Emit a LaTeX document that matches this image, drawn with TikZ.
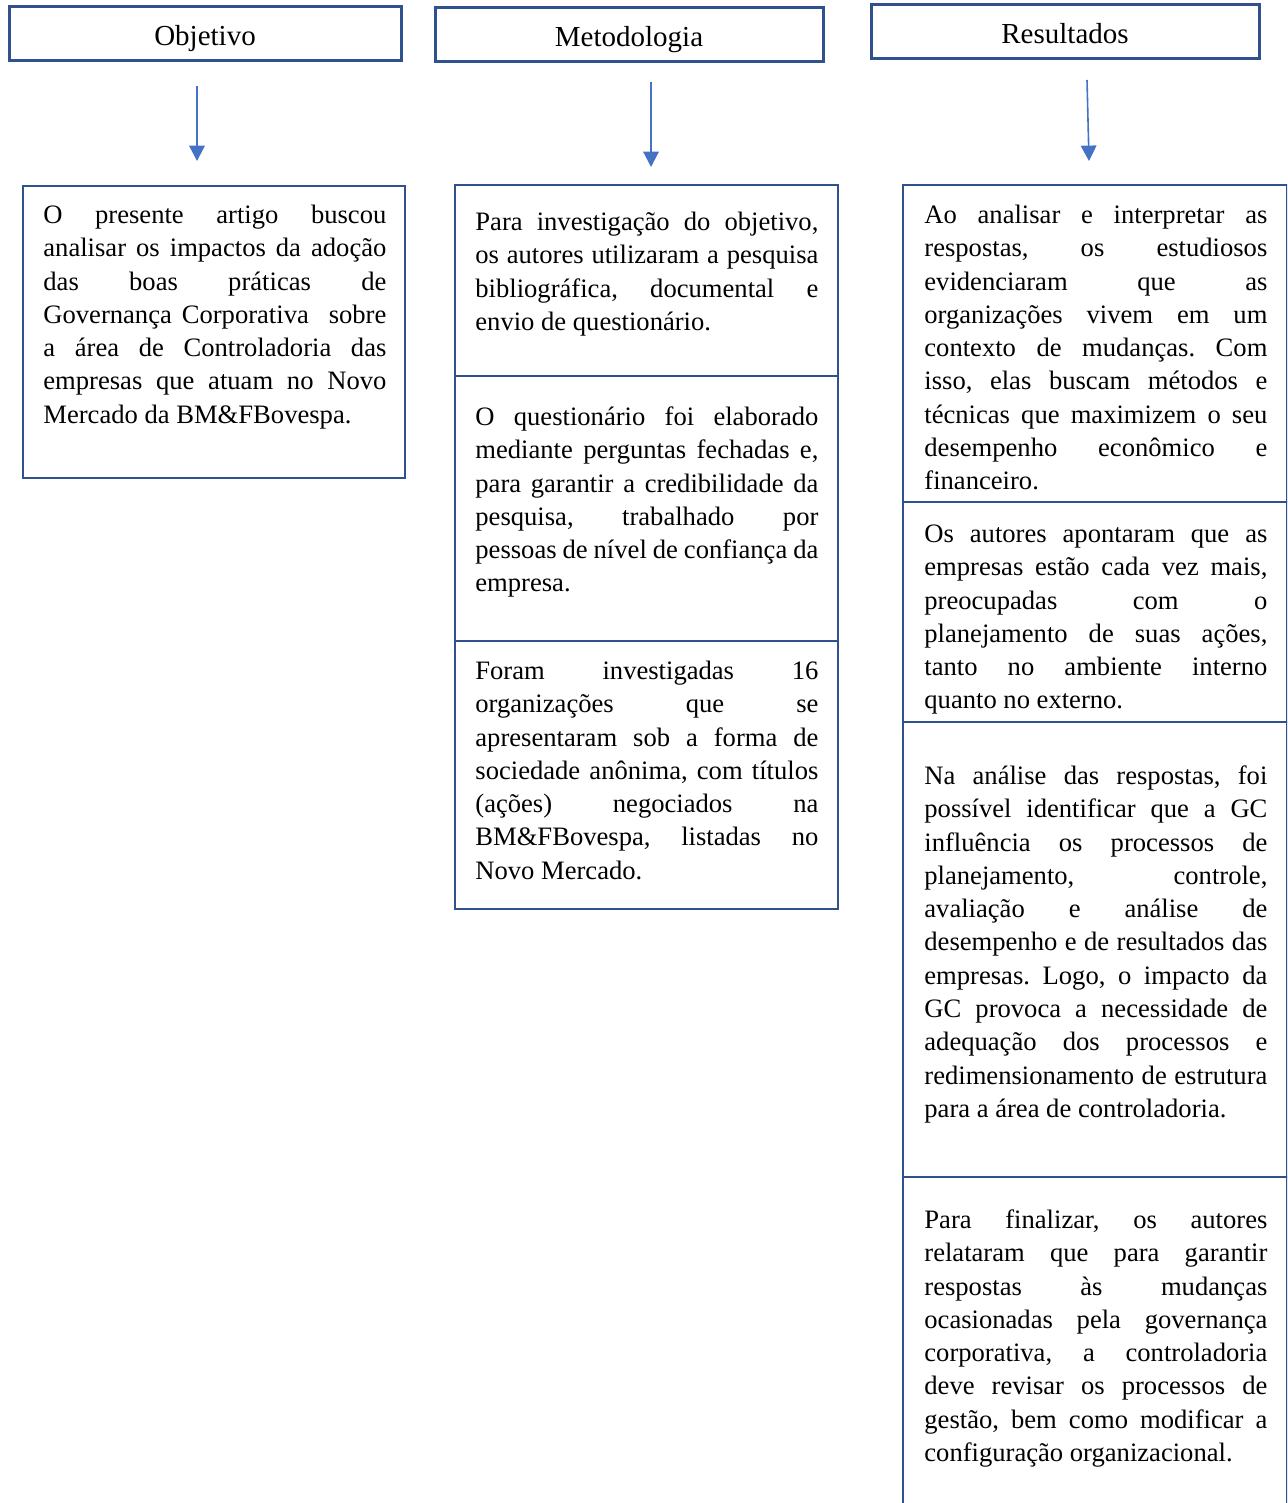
\documentclass[tikz,border=0pt]{standalone}
\usepackage{fontspec}
\setmainfont{Liberation Serif}
\usetikzlibrary{arrows.meta,positioning}
\frenchspacing

\definecolor{boxblue}{HTML}{2F528F}
\definecolor{arrowblue}{HTML}{4472C4}

\tikzset{
  headbox/.style={draw=boxblue, line width=1.5pt, minimum height=27pt, inner sep=0pt,
    text height=12pt, text depth=0pt, font=\fontsize{14.5}{17}\selectfont},
  panel/.style={draw=boxblue, line width=1.4pt, anchor=north west, inner sep=0pt, outer sep=0pt},
  txt/.style={anchor=north west, text width=171.5pt, align=justify, inner sep=0pt,
    font=\fontsize{13.3}{16.65}\selectfont,
    execute at begin node={\hyphenpenalty=10000\tolerance=10000\strut}},
  arr/.style={arrowblue, line width=0.8pt, -{Triangle[width=7.8pt,length=7.7pt]}}
}

\begin{document}
\begin{tikzpicture}[x=0.5pt, y=-0.5pt]
\useasboundingbox (0,0) rectangle (1287,1503);
\clip (0,0) rectangle (1287,1503);

% column heads
\node[headbox, minimum width=196pt] (hobj) at (205,34) {Objetivo};
\node[headbox, minimum width=194pt] (hmet) at (629,35) {Metodologia};
\node[headbox, minimum width=194pt] (hres) at (1065,32) {Resultados};

% panels
\node[panel, minimum width=191pt, minimum height=146pt] (obj) at (23,186) {};

\node[panel, minimum width=191.5pt, minimum height=95.5pt] (met1) at (455,185) {};
\node[panel, minimum width=191.5pt, minimum height=132.5pt, below=0pt of met1] (met2) {};
\node[panel, minimum width=191.5pt, minimum height=134pt, below=0pt of met2] (met3) {};

\node[panel, minimum width=192pt, minimum height=158.5pt] (res1) at (903,185) {};
\node[panel, minimum width=192pt, minimum height=110pt, below=0pt of res1] (res2) {};
\node[panel, minimum width=192pt, minimum height=227.5pt, below=0pt of res2] (res3) {};
\node[panel, minimum width=192pt, minimum height=171.5pt, below=0pt of res3] (res4) {};

% texts
\node[txt] (tobj) at (43,199.7) {O presente artigo buscou\linebreak
analisar os impactos da adoção\linebreak
das boas práticas de\linebreak
Governança Corporativa \ sobre\linebreak
a área de Controladoria das\linebreak
empresas que atuam no Novo\linebreak
Mercado da BM\&FBovespa.};

\node[txt] (tmet1) at (475,206.7) {Para investigação do objetivo,\linebreak
os autores utilizaram a pesquisa\linebreak
bibliográfica, documental e\linebreak
envio de questionário.};

\node[txt] (tmet2) at (475,401.7) {O questionário foi elaborado\linebreak
mediante perguntas fechadas e,\linebreak
para garantir a credibilidade da\linebreak
pesquisa, trabalhado por\linebreak
pessoas de nível de confiança da\linebreak
empresa.};

\node[txt] (tmet3) at (475,655.7) {Foram investigadas 16\linebreak
organizações que se\linebreak
apresentaram sob a forma de\linebreak
sociedade anônima, com títulos\linebreak
(ações) negociados na\linebreak
BM\&FBovespa, listadas no\linebreak
Novo Mercado.};

\node[txt] (tres1) at (924,199.7) {Ao analisar e interpretar as\linebreak
respostas, os estudiosos\linebreak
evidenciaram que as\linebreak
organizações vivem em um\linebreak
contexto de mudanças. Com\linebreak
isso, elas buscam métodos e\linebreak
técnicas que maximizem o seu\linebreak
desempenho econômico e\linebreak
financeiro.};

\node[txt] (tres2) at (924,518.7) {Os autores apontaram que as\linebreak
empresas estão cada vez mais,\linebreak
preocupadas com o\linebreak
planejamento de suas ações,\linebreak
tanto no ambiente interno\linebreak
quanto no externo.};

\node[txt] (tres3) at (924,760.7) {Na análise das respostas, foi\linebreak
possível identificar que a GC\linebreak
influência os processos de\linebreak
planejamento, controle,\linebreak
avaliação e análise de\linebreak
desempenho e de resultados das\linebreak
empresas. Logo, o impacto da\linebreak
GC provoca a necessidade de\linebreak
adequação dos processos e\linebreak
redimensionamento de estrutura\linebreak
para a área de controladoria.};

\node[txt] (tres4) at (924,1204.7) {Para finalizar, os autores\linebreak
relataram que para garantir\linebreak
respostas às mudanças\linebreak
ocasionadas pela governança\linebreak
corporativa, a controladoria\linebreak
deve revisar os processos de\linebreak
gestão, bem como modificar a\linebreak
configuração organizacional.};

% arrows
\coordinate (a1) at (197,86);
\coordinate (b1) at (197,161);
\coordinate (a2) at (651,82);
\coordinate (b2) at (651,167);
\coordinate (a3) at (1087,80);
\coordinate (b3) at (1089,161);
\draw[arr] (a1) -- (b1);
\draw[arr] (a2) -- (b2);
\draw[arr] (a3) -- (b3);
\end{tikzpicture}
\end{document}
